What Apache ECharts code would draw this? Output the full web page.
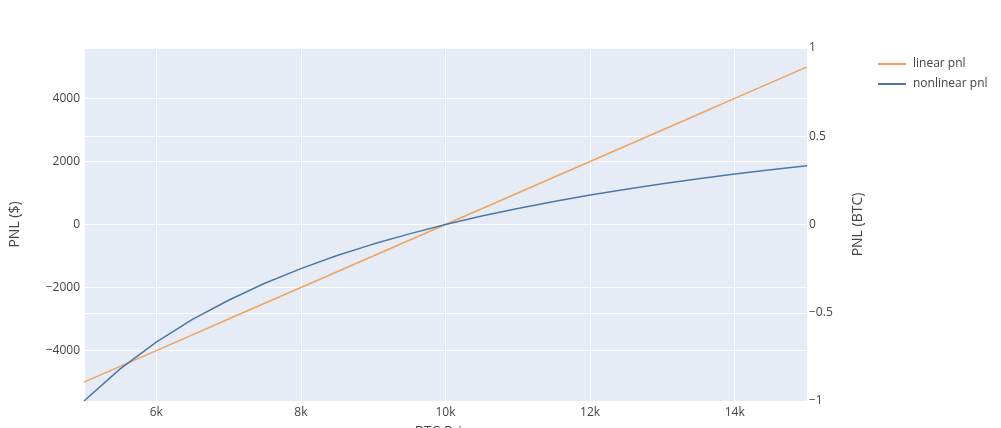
<!DOCTYPE html>
<html>
<head>
<meta charset="utf-8">
<script src="https://cdn.jsdelivr.net/npm/echarts@6/dist/echarts.min.js"></script>
<style>
html,body{margin:0;padding:0;background:#fff;}
#chart{width:1001px;height:428px;}
</style>
</head>
<body>
<div id="chart"></div>
<script>
const prices = [5000,5500,6000,6500,7000,7500,8000,8500,9000,9500,10000,10500,11000,11500,12000,12500,13000,13500,14000,14500,15000];
const linearPnl = [-5000,-4500,-4000,-3500,-3000,-2500,-2000,-1500,-1000,-500,0,500,1000,1500,2000,2500,3000,3500,4000,4500,5000];
const nonlinearPnl = [-1,-0.818,-0.667,-0.538,-0.429,-0.333,-0.25,-0.176,-0.111,-0.053,0,0.048,0.091,0.13,0.167,0.2,0.231,0.259,0.286,0.31,0.333];
const seriesNames = ['linear pnl','nonlinear pnl'];
const axisNames = {x:'BTC Price', yLeft:'PNL ($)', yRight:'PNL (BTC)'};

const font = 'Open Sans, Noto Sans, sans-serif';
const textColor = '#444';
const chart = echarts.init(document.getElementById('chart'), null, {renderer:'canvas'});
chart.setOption({
  animation:false,
  backgroundColor:'#fff',
  textStyle:{fontFamily:font,color:textColor},
  grid:{left:84,right:194,top:48,bottom:27,show:true,backgroundColor:'#e5ecf6',borderWidth:0,containLabel:false,outerBoundsMode:'none'},
  legend:{
    orient:'vertical',left:873,top:53,itemWidth:28,itemHeight:2,itemGap:8,icon:'rect',
    textStyle:{fontFamily:font,fontSize:12,color:textColor,padding:[0,0,0,2]},
    data:seriesNames
  },
  xAxis:{
    type:'value',min:5000,max:15000,
    name:axisNames.x,nameLocation:'middle',nameGap:24,
    nameTextStyle:{fontFamily:font,fontSize:14,color:textColor},
    axisLine:{show:false},axisTick:{show:false},
    splitLine:{show:true,lineStyle:{color:'#fff',width:1}},
    axisLabel:{fontFamily:font,fontSize:12,color:textColor,margin:6,showMinLabel:false,showMaxLabel:false,
      formatter:v=>(v/1000)+'k'}
  },
  yAxis:[{
    type:'value',min:-5600,max:5600,position:'left',
    name:axisNames.yLeft,nameLocation:'middle',nameGap:62,
    nameTextStyle:{fontFamily:font,fontSize:14,color:textColor},
    axisLine:{show:false},axisTick:{show:false},
    splitLine:{show:true,lineStyle:{color:'#fff',width:1}},
    axisLabel:{fontFamily:font,fontSize:12,color:textColor,margin:4,showMinLabel:false,showMaxLabel:false,
      formatter:v=>String(v).replace('-','\u2212')}
  },{
    type:'value',min:-1,max:1,interval:0.5,position:'right',
    name:axisNames.yRight,nameLocation:'middle',nameGap:44,nameRotate:90,
    nameTextStyle:{fontFamily:font,fontSize:14,color:textColor},
    axisLine:{show:false},axisTick:{show:false},
    splitLine:{show:true,lineStyle:{color:'#fff',width:1}},
    axisLabel:{fontFamily:font,fontSize:12,color:textColor,margin:2,
      formatter:v=>String(v).replace('-','\u2212')}
  }],
  series:[{
    name:seriesNames[0],type:'line',yAxisIndex:0,symbol:'none',
    lineStyle:{color:'#f0a35c',width:1.5},itemStyle:{color:'#f0a35c'},
    data:prices.map((p,i)=>[p,linearPnl[i]])
  },{
    name:seriesNames[1],type:'line',yAxisIndex:1,symbol:'none',
    lineStyle:{color:'#4c78a8',width:1.5},itemStyle:{color:'#4c78a8'},
    data:prices.map((p,i)=>[p,nonlinearPnl[i]])
  }]
});
</script>
</body>
</html>
